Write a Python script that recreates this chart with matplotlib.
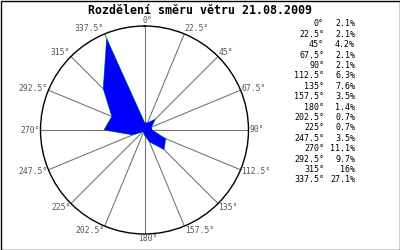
import numpy as np
import matplotlib
matplotlib.use("Agg")
import matplotlib.pyplot as plt
from matplotlib.patches import Rectangle

title = "Rozdělení směru větru 21.08.2009"
directions = [0, 22.5, 45, 67.5, 90, 112.5, 135, 157.5, 180, 202.5, 225, 247.5, 270, 292.5, 315, 337.5]
percent = [2.1, 2.1, 4.2, 2.1, 2.1, 6.3, 7.6, 3.5, 1.4, 0.7, 0.7, 3.5, 11.1, 9.7, 16, 27.1]
rmax = 28.5

W, H = 400, 250
fig = plt.figure(figsize=(W / 100, H / 100), dpi=100)
fig.patch.set_facecolor("white")
fig.add_artist(Rectangle((0.5 / W, 0.5 / H), (W - 1) / W, (H - 1) / H, transform=fig.transFigure,
                         fill=False, edgecolor="black", linewidth=1))

cx, cy, R = 144.5, 130, 104
ax = fig.add_axes([(cx - R) / W, (H - cy - R) / H, 2 * R / W, 2 * R / H], projection="polar")
ax.set_theta_zero_location("N")
ax.set_theta_direction(-1)
ax.set_ylim(0, rmax)
ax.grid(False)
ax.set_xticks([])
ax.set_yticks([])
ax.spines["polar"].set_color("black")
ax.spines["polar"].set_linewidth(1)

th = np.deg2rad(directions)
for t in th:
    ax.plot([t, t], [0, rmax], color="#777777", linewidth=0.8, zorder=1)

tc = np.append(th, th[0])
pc = np.append(percent, percent[0])
ax.plot(tc, pc, color="#00cc00", linewidth=0.6, zorder=2)
ax.fill(tc, pc, color="#0000ff", linewidth=0, zorder=3)

for a, t in zip(directions, th):
    s, c = np.sin(t), np.cos(t)
    if s > 0.05:
        ha, dx = "left", 0.5
    elif s < -0.05:
        ha, dx = "right", -0.5
    else:
        ha, dx = "center", 3
    dy = 5 * c  # pixels up
    ax.annotate(f"{a:g}°", xy=(t, rmax), xytext=(dx * 0.72, dy * 0.72 + (0.5 if abs(c) > 0.9 else 0)),
                textcoords="offset points", ha=ha, va="center",
                fontsize=5.8, family="DejaVu Sans Mono", color="#555555", annotation_clip=False)

fig.text(0.5, 1 - 10.5 / H, title, ha="center", va="center", fontsize=8.4,
         family="DejaVu Sans Mono", fontweight="bold", color="black")

for i, (a, p) in enumerate(zip(directions, percent)):
    y = 1 - (24 + i * 10.4) / H
    fig.text(324 / W, y, f"{a:g}°", ha="right", va="center", fontsize=6,
             family="DejaVu Sans Mono", color="black")
    fig.text(355 / W, y, f"{p:g}%", ha="right", va="center", fontsize=6,
             family="DejaVu Sans Mono", color="black")

fig.savefig("out.png", dpi=100)
